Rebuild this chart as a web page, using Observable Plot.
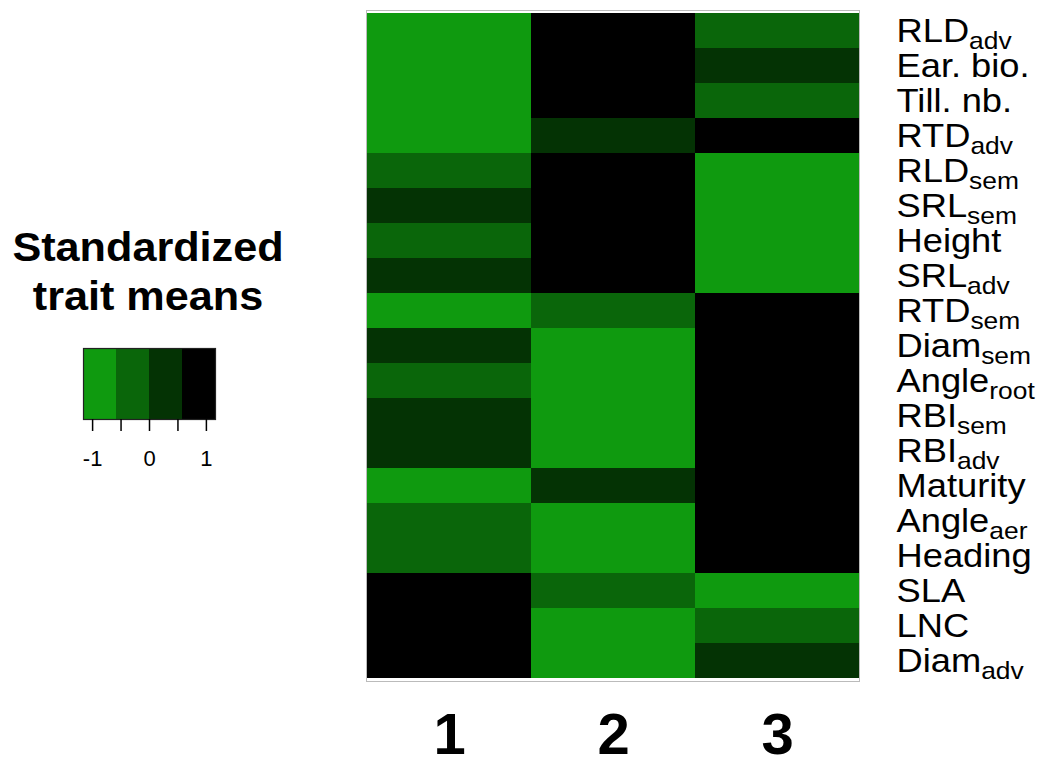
<!DOCTYPE html>
<html>
<head>
<meta charset="utf-8">
<script src="https://cdn.jsdelivr.net/npm/d3@7"></script>
<script src="https://cdn.jsdelivr.net/npm/@observablehq/plot@0.6"></script>
<style>
  html, body { margin: 0; padding: 0; background: #fff; }
  body { width: 1043px; height: 760px; position: relative; overflow: hidden;
         font-family: "Liberation Sans", Arial, sans-serif; color: #000; }
  #main { position: absolute; left: 0; top: 0; }
  #legend { position: absolute; left: 0; top: 330px; }
  #title { position: absolute; left: 0; top: 223px; width: 296px; text-align: center;
           font-weight: bold; font-size: 40px; line-height: 49px;
           transform: scaleX(1.08); transform-origin: 148px 0; }
</style>
</head>
<body>
<div id="main"></div>
<div id="title">Standardized<br>trait means</div>
<div id="legend"></div>
<script>
// Rows (traits), top to bottom; "|" marks a subscript
const traits = ["RLD|adv","Ear. bio.","Till. nb.","RTD|adv","RLD|sem","SRL|sem","Height","SRL|adv",
  "RTD|sem","Diam|sem","Angle|root","RBI|sem","RBI|adv","Maturity","Angle|aer","Heading","SLA","LNC","Diam|adv"];
const clusters = ["1","2","3"];
// Standardized trait means per cluster (estimated from colour bins)
const cluster1 = [-0.9,-0.9,-0.9,-0.9,-0.3,0.3,-0.3,0.3,-0.9,0.3,-0.3,0.3,0.3,-0.9,-0.3,-0.3,0.9,0.9,0.9];
const cluster2 = [0.9,0.9,0.9,0.3,0.9,0.9,0.9,0.9,-0.3,-0.9,-0.9,-0.9,-0.9,0.3,-0.9,-0.9,-0.3,-0.9,-0.9];
const cluster3 = [-0.3,0.3,-0.3,0.9,-0.9,-0.9,-0.9,-0.9,0.9,0.9,0.9,0.9,0.9,0.9,0.9,0.9,-0.9,-0.3,0.3];
// Colour key
const legendBreaks = [-1.16,-0.58,0,0.58,1.16];
const colors = ["#0f9a0f","#0a660a","#043304","#000000"];
const legendTicks = [-1,-0.5,0,0.5,1];
const legendTickLabels = ["-1","","0","","1"];

const seriesList = [cluster1, cluster2, cluster3];
const data = [];
clusters.forEach((c, i) => traits.forEach((t, j) => data.push({cluster: c, trait: t, value: seriesList[i][j]})));

const colorScale = {type: "threshold", domain: legendBreaks.slice(1, -1), range: colors};

const main = Plot.plot({
  width: 1043, height: 760,
  marginLeft: 366, marginRight: 184, marginTop: 10, marginBottom: 79,
  style: {fontFamily: "Liberation Sans, Arial, sans-serif", color: "#000", background: "#fff"},
  x: {domain: clusters, padding: 0},
  y: {domain: traits, padding: 0},
  color: colorScale,
  marks: [
    Plot.cell(data, {x: "cluster", y: "trait", fill: "value"}),
    Plot.frame({stroke: "#bbb", strokeWidth: 1}),
    Plot.axisX({anchor: "bottom", tickSize: 0, tickPadding: 31, fontSize: 58, fontWeight: "bold", label: null}),
    Plot.axisY({anchor: "right", tickSize: 0, tickPadding: 37, fontSize: 33, label: null, textAnchor: "start"})
  ]
});
document.getElementById("main").appendChild(main);

// subscripts and slight horizontal stretch (as in the reference)
const SVGNS = "http://www.w3.org/2000/svg";
main.querySelectorAll('g[aria-label="y-axis tick label"] text').forEach(el => {
  const s = el.textContent;
  if (s.includes("|")) {
    const [a, b] = s.split("|");
    el.textContent = "";
    const t1 = document.createElementNS(SVGNS, "tspan");
    t1.textContent = a;
    const t2 = document.createElementNS(SVGNS, "tspan");
    t2.textContent = b;
    t2.setAttribute("font-size", "24");
    t2.setAttribute("dy", "7");
    el.appendChild(t1); el.appendChild(t2);
  }
  const tr = el.getAttribute("transform");
  if (tr) {
    el.setAttribute("transform", tr + " scale(1.1,1)");
  } else {
    const x = +(el.getAttribute("x") || 0), y = +(el.getAttribute("y") || 0);
    el.removeAttribute("x"); el.removeAttribute("y");
    el.setAttribute("transform", `translate(${x},${y}) scale(1.1,1)`);
  }
});

const legendData = colors.map((c, i) => ({x1: legendBreaks[i], x2: legendBreaks[i + 1], v: (legendBreaks[i] + legendBreaks[i + 1]) / 2}));
const legend = Plot.plot({
  width: 300, height: 150,
  marginLeft: 83, marginRight: 85, marginTop: 18, marginBottom: 61,
  style: {fontFamily: "Liberation Sans, Arial, sans-serif", color: "#000", background: "transparent"},
  x: {domain: [legendBreaks[0], legendBreaks[legendBreaks.length - 1]]},
  y: {domain: [0, 1], axis: null},
  color: colorScale,
  marks: [
    Plot.rect(legendData, {x1: "x1", x2: "x2", y1: 0, y2: 1, fill: "v"}),
    Plot.frame({stroke: "#222", strokeWidth: 1.2}),
    Plot.axisX({ticks: legendTicks, tickFormat: (d, i) => legendTickLabels[i], tickSize: 12, tickPadding: 19,
                fontSize: 22, strokeWidth: 1.5, label: null})
  ]
});
document.getElementById("legend").appendChild(legend);
</script>
</body>
</html>
